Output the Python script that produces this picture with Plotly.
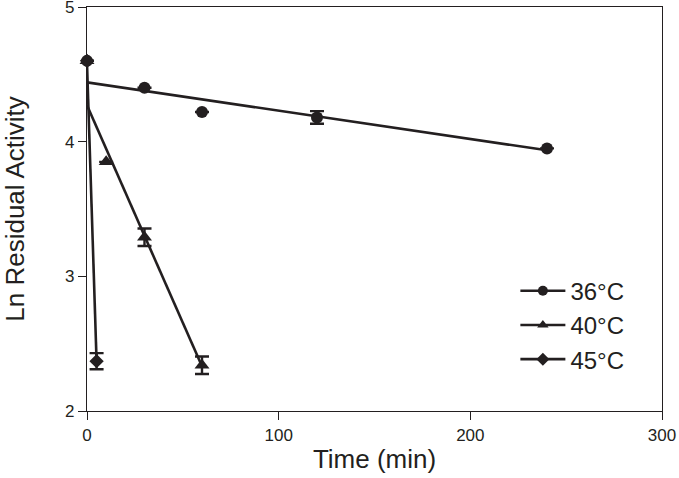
import plotly.graph_objects as go

# ---- data ----
series_names = ["36°C", "40°C", "45°C"]
symbols = ["circle", "triangle-up", "diamond"]

x_36 = [0, 30, 60, 120, 240]
y_36 = [4.60, 4.40, 4.22, 4.18, 3.95]
e_36 = [0, 0, 0, 0.047, 0]

x_40 = [0, 10, 30, 60]
y_40 = [4.60, 3.85, 3.29, 2.34]
e_40 = [0, 0, 0.065, 0.065]

x_45 = [0, 5]
y_45 = [4.60, 2.37]
e_45 = [0, 0.06]

# linear fits (intercept, slope, x-range end)
fit_intercept = [4.44, 4.27, 4.58]
fit_slope = [-0.0021, -0.0323, -0.442]
fit_xend = [240, 60, 5]

x_ticks = [0, 100, 200, 300]
y_ticks = [2, 3, 4, 5]

ink = "#231f20"
font_family = "Liberation Sans, Arial, sans-serif"

xs = [x_36, x_40, x_45]
ys = [y_36, y_40, y_45]
es = [e_36, e_40, e_45]
msizes = [12, 13, 11]

fig = go.Figure()

# fitted lines
for i in range(3):
    xl = [0, fit_xend[i]]
    yl = [fit_intercept[i] + fit_slope[i] * v for v in xl]
    fig.add_trace(go.Scatter(x=xl, y=yl, mode="lines",
                             line=dict(color=ink, width=2.6),
                             showlegend=False, hoverinfo="skip",
                             cliponaxis=False))

# data points with error bars
for i in range(3):
    fig.add_trace(go.Scatter(
        x=xs[i], y=ys[i], mode="markers",
        marker=dict(symbol=symbols[i], size=msizes[i], color=ink),
        error_y=dict(type="data", array=es[i], visible=True,
                     color=ink, thickness=2.4, width=7),
        showlegend=False, cliponaxis=False))

# legend entries (line + marker)
for i in range(3):
    fig.add_trace(go.Scatter(
        x=[None], y=[None], mode="lines+markers", name=series_names[i],
        marker=dict(symbol=symbols[i], size=10, color=ink),
        line=dict(color=ink, width=2.6)))

axis_common = dict(
    showline=True, linecolor=ink, linewidth=1.3, mirror=True,
    showgrid=False, zeroline=False, automargin=False,
    ticks="outside", ticklen=8, tickwidth=1.3, tickcolor=ink,
    ticklabeloverflow="allow",
    tickfont=dict(family=font_family, size=17, color=ink),
)

fig.update_layout(
    width=679, height=478,
    margin=dict(l=87, r=17, t=7, b=67),
    paper_bgcolor="white", plot_bgcolor="white",
    font=dict(family=font_family, color=ink),
    xaxis=dict(range=[0, 300], tickvals=x_ticks, **axis_common,
               title=dict(text="Time (min)", standoff=6,
                          font=dict(family=font_family, size=26, color=ink))),
    yaxis=dict(range=[2, 5], tickvals=y_ticks, **axis_common,
               title=dict(text="Ln Residual Activity", standoff=37,
                          font=dict(family=font_family, size=26, color=ink))),
    legend=dict(x=0.745, y=0.2125, xanchor="left", yanchor="middle",
                itemwidth=45,
                bgcolor="rgba(0,0,0,0)",
                font=dict(family=font_family, size=24, color=ink)),
    showlegend=True,
)

fig.write_html("out.html", config={"displayModeBar": False},
               post_script="document.body.style.margin='0';document.body.style.overflow='hidden';")
